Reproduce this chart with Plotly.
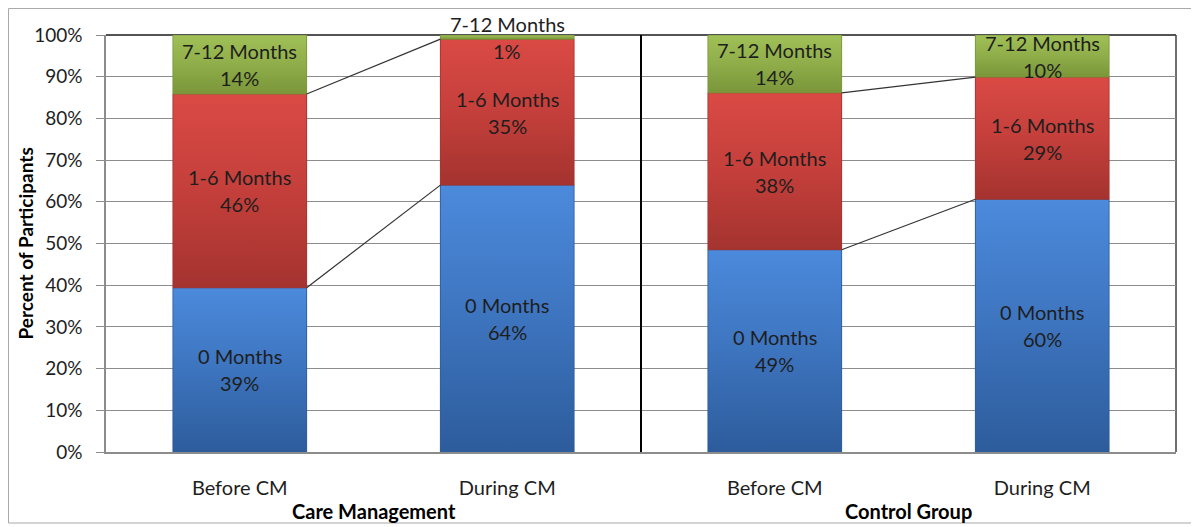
import numpy as np
import plotly.graph_objects as go

# ---- data ----
categories = ["Before CM", "During CM", "Before CM", "During CM"]
groups = ["Care Management", "Control Group"]
series_names = ["0 Months", "1-6 Months", "7-12 Months"]
months_0 = [39, 64, 49, 60]
months_1_6 = [46, 35, 38, 29]
months_7_12 = [14, 1, 14, 10]
y_ticks = [0, 10, 20, 30, 40, 50, 60, 70, 80, 90, 100]

mid_colors = ["#3D74BE", "#C43F3B", "#8FAD49"]
light_colors = ["#4C8ADC", "#DA4A45", "#A0C057"]
dark_colors = ["#2D5C9C", "#A4332F", "#7A963A"]
FONT = "Lato"
TXT = "#1E1E1E"
FS = 20

x = np.arange(len(categories))
bar_w = 0.5
series = [months_0, months_1_6, months_7_12]
arr = np.array(series, dtype=float)
norm = arr / arr.sum(axis=0) * 100
cum = np.cumsum(norm, axis=0)
base = cum - norm

fig = go.Figure()
for name, vals, c in zip(series_names, series, mid_colors):
    fig.add_trace(go.Bar(
        x=x, y=vals, name=name, width=bar_w,
        marker=dict(color=c, line=dict(width=0)),
        hoverinfo="skip",
    ))

# gradient shading of every segment (same geometry as the bars)
for k in range(len(series)):
    for i in range(len(categories)):
        xl, xr = x[i] - bar_w / 2, x[i] + bar_w / 2
        b, t = base[k, i], cum[k, i]
        fig.add_trace(go.Scatter(
            x=[xl, xr, xr, xl, xl], y=[b, b, t, t, b],
            mode="lines", line=dict(width=0.8, color=dark_colors[k]),
            fill="toself",
            fillgradient=dict(type="vertical",
                              colorscale=[[0, dark_colors[k]],
                                          [0.5, mid_colors[k]],
                                          [1, light_colors[k]]]),
            showlegend=False, hoverinfo="skip",
        ))

# series lines (between bars of the same group)
for g in range(len(groups)):
    i0, i1 = 2 * g, 2 * g + 1
    for k in range(2):
        fig.add_trace(go.Scatter(
            x=[x[i0] + bar_w / 2, x[i1] - bar_w / 2],
            y=[cum[k, i0], cum[k, i1]],
            mode="lines", line=dict(color="#333333", width=1.2),
            showlegend=False, hoverinfo="skip",
        ))

shapes = [
    dict(type="line", xref="x", yref="paper", x0=1.5, x1=1.5, y0=0, y1=1,
         line=dict(color="#000000", width=2), layer="above"),
    dict(type="line", xref="paper", yref="paper", x0=0, x1=1, y0=1, y1=1,
         line=dict(color="#1A1A1A", width=1.5), layer="below"),
    dict(type="line", xref="paper", yref="paper", x0=1, x1=1, y0=0, y1=1,
         line=dict(color="#404040", width=1.5), layer="below"),
    dict(type="rect", xref="paper", yref="paper", x0=-0.0911, x1=1.2,
         y0=-0.1703, y1=1.0635, line=dict(color="#A8A8A8", width=1),
         layer="below"),
]

annotations = [
    dict(text="<b>Percent of Participants</b>", xref="paper", yref="paper",
         x=-0.0757, y=0.5, xanchor="center", yanchor="middle",
         textangle=-90, showarrow=False,
         font=dict(family=FONT, size=FS - 1, color="#000000")),
]
for g, gname in enumerate(groups):
    annotations.append(dict(
        text=f"<b>{gname}</b>", xref="x", yref="paper",
        x=(x[2 * g] + x[2 * g + 1]) / 2, y=-0.1415, yanchor="middle",
        showarrow=False, font=dict(family=FONT, size=FS, color="#000000")))

# segment labels
for k, (name, vals) in enumerate(zip(series_names, series)):
    for i, v in enumerate(vals):
        ymid = base[k, i] + norm[k, i] / 2
        for line_txt, shift in ((name, 13.5), (f"{v}%", -13.5)):
            annotations.append(dict(
                text=line_txt, x=x[i], y=ymid, xref="x", yref="y",
                yshift=shift, showarrow=False, yanchor="middle",
                font=dict(family=FONT, size=FS, color=TXT)))

fig.update_layout(
    barmode="stack", barnorm="percent",
    width=1191, height=519,
    margin=dict(l=98, r=23, t=27, b=75),
    paper_bgcolor="white", plot_bgcolor="white",
    showlegend=False,
    shapes=shapes, annotations=annotations,
    font=dict(family=FONT, color=TXT),
)
fig.update_xaxes(
    range=[-0.5, 3.5], tickvals=x, ticktext=categories,
    showgrid=False, zeroline=False, showline=True, linecolor="#8C8C8C",
    linewidth=1.5, ticks="", ticklabelstandoff=17,
    tickfont=dict(family=FONT, size=FS, color=TXT),
)
fig.update_yaxes(
    range=[0, 100], tickvals=y_ticks, ticktext=[f"{t}%" for t in y_ticks],
    showgrid=True, gridcolor="#8C8C8C", gridwidth=1, zeroline=False,
    showline=True, linecolor="#8C8C8C", linewidth=1.5,
    ticks="outside", ticklen=8, tickcolor="#8C8C8C", ticklabelstandoff=10,
    tickfont=dict(family=FONT, size=FS - 1, color=TXT),
)
fig.write_html("out.html")
